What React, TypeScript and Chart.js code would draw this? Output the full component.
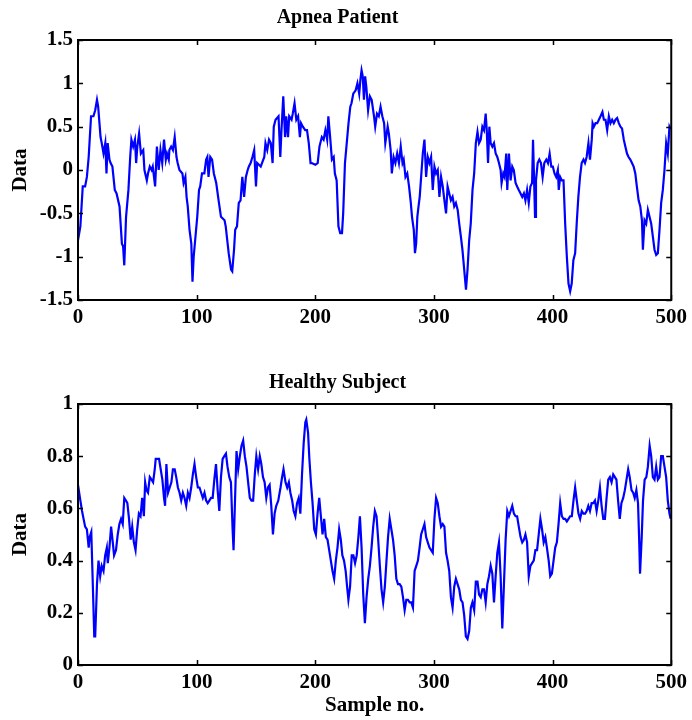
import React, { useEffect, useRef } from "react";
import { Chart, registerables } from "chart.js";

Chart.register(...registerables);

// ---------- data ----------
const xTickValues = [0, 100, 200, 300, 400, 500];
const apneaYRange = [-1.5, 1.5];
const apneaYStep = 0.5;
const healthyYRange = [0, 1];
const healthyYStep = 0.2;

const apneaTitle = "Apnea Patient";
const healthyTitle = "Healthy Subject";
const yAxisLabel = "Data";
const xAxisLabel = "Sample no.";

const apneaSamples = [
  0, 2, 4, 6, 7.5, 9, 11, 13, 14.5, 16, 17, 19, 20, 21.5, 23, 24, 25, 26.5, 27.5, 29,
  31, 32.5, 35, 37, 38, 39, 40.5, 42.5, 44, 45, 46.5, 48, 49, 50, 51.5, 53, 55, 56, 58, 59,
  60.5, 62, 63, 65, 66.5, 68, 69.5, 71, 72.5, 74, 75, 76.5, 77, 78.5, 80, 81.5, 83, 84, 85.5, 88,
  89, 90.5, 91.5, 92.5, 94, 95.5, 96.5, 97.5, 99, 100.5, 102, 103, 104.5, 106.5, 108, 109, 110, 111.5, 113, 114.5,
  116.5, 118.5, 120.5, 123.5, 124.5, 127, 129, 130, 131.5, 132.5, 134, 135.5, 137, 138.5, 140, 141.5, 143, 144, 145.5, 147,
  148.5, 150, 151, 154, 157, 158, 159.5, 161, 162.5, 164, 165, 166.5, 169,
  170.5, 171.5, 173, 174.5, 175.5, 177, 178, 180, 181, 182.5, 184, 185.5, 187, 188, 189.5, 191.5, 193, 194.5, 196, 197,
  200, 202, 203.5, 205.5, 207, 208.5, 210, 211, 212.5, 214, 215.5, 216.5, 218, 219.5, 221, 222.5, 223.5, 225, 226.5, 228,
  229.5, 230.5, 232, 234, 235.5, 237, 238, 239, 240, 241, 242, 243, 244.5, 246, 247.5, 249.5, 250.5, 252, 253.5, 255,
  256.5, 258, 259, 261, 262, 263.5, 264.5, 266, 267.5, 269, 270.5, 272, 273.5, 274.5, 276, 277.5, 279, 280.5, 281.5, 283,
  284, 285, 286, 287, 288, 289.2, 290.6, 292, 293.4, 294.8, 296.2, 297.6, 299, 300.4, 301.8, 303.2, 304.6, 306, 307.4, 308.8,
  310.2, 311.5, 312.9, 314.3, 315.7, 317.1, 318.5, 320, 321.3, 322.7, 324, 325.5, 327, 328.3, 329.7, 331, 332.5, 333.9, 335.3, 336.7,
  338, 339.4, 340.8, 342.2, 343.6, 344.5, 345.6, 346.7, 347.8, 349.2, 350.6, 352, 353.4, 354.8, 356.2, 357, 358.4, 359.5, 360.9, 361.8,
  363.2, 364.6, 366, 367.3, 368.8, 370.1, 371.5, 373, 374.4, 375.8, 377.1, 378.5, 379.9, 381.3, 382.7, 383.5, 384.4, 385.2, 386, 387.4,
  388.8, 390.2, 391.6, 393, 394.7, 396.1, 397.5, 398.9, 400.2, 401.6, 403, 404.4, 405.2, 406.4, 407.8, 409.2, 410.6, 412, 413.4, 414.8,
  416.1, 417.5, 419, 420.3, 421.7, 423.1, 424.5, 426, 427.3, 428.7, 430.2, 431.5, 433, 433.7, 434.8, 436.2, 437.6, 439, 440.4, 442,
  443.2, 444.6, 446, 447.4, 448.8, 450.2, 451.6, 453, 454.4, 455.8, 457.2, 458.5, 460, 461.3, 462.7, 464, 465.5, 466.9, 468.3, 469.7,
  471, 472.5, 473.9, 475.3, 476.1, 477.5, 478.9, 480.3, 481.7, 483.1, 484.5, 485.9, 487.3, 488.7, 490.1, 491.5, 492.9, 494.3, 495.7, 497.1,
  498.5, 499.5,
];

const apneaValues = [
  -0.81, -0.65, -0.19, -0.19, -0.08, 0.15, 0.62, 0.62, 0.69, 0.81, 0.73, 0.38, 0.31, 0.19, 0.31, -0.04, 0.31, 0.12, 0.08, 0.04,
  -0.23, -0.27, -0.42, -0.85, -0.88, -1.1, -0.54, -0.23, 0.15, 0.35, 0.27, 0.35, 0.08, 0.27, 0.42, 0.19, 0.23, 0.0, -0.12, -0.04,
  0.04, 0.0, 0.04, -0.19, 0.27, 0.0, 0.23, 0.08, 0.35, 0.12, 0.19, 0.12, 0.23, 0.27, 0.23, 0.38, 0.15, 0.08, 0.0, -0.04,
  -0.15, -0.08, -0.31, -0.42, -0.69, -0.85, -1.29, -1.0, -0.77, -0.54, -0.23, -0.19, -0.04, -0.04, 0.12, 0.15, -0.08, 0.15, 0.12, -0.04,
  -0.15, -0.35, -0.54, -0.58, -0.65, -0.96, -1.15, -1.17, -0.92, -0.69, -0.65, -0.38, -0.35, -0.08, -0.31, -0.08, 0.0, 0.04, 0.08, 0.15,
  0.23, -0.19, 0.08, 0.04, 0.15, 0.31, 0.23, 0.35, 0.31, 0.08, 0.5, 0.58, 0.62,
  0.15, 0.46, 0.85, 0.38, 0.62, 0.38, 0.62, 0.58, 0.65, 0.77, 0.58, 0.62, 0.38, 0.54, 0.5, 0.46, 0.46, 0.31, 0.08, 0.08,
  0.06, 0.08, 0.27, 0.38, 0.35, 0.46, 0.35, 0.62, 0.38, 0.12, 0.15, -0.04, -0.12, -0.65, -0.73, -0.73, -0.5, 0.08, 0.31, 0.54,
  0.73, 0.77, 0.88, 0.92, 1.0, 0.88, 1.04, 1.15, 1.08, 0.81, 1.08, 0.96, 0.69, 0.85, 0.81, 0.62, 0.5, 0.65, 0.62, 0.73,
  0.62, 0.54, 0.31, 0.5, 0.42, 0.23, -0.04, 0.15, 0.08, 0.19, 0.08, 0.27, 0.08, 0.12, -0.08, -0.04, -0.19, -0.38, -0.54, -0.69,
  -0.96, -0.85, -0.54, -0.42, -0.31, -0.08, 0.19, 0.35, -0.08, 0.15, 0.08, 0.15, -0.23, 0.04, -0.04, 0.0, -0.31, -0.08, -0.19, -0.35,
  -0.5, -0.19, -0.27, -0.35, -0.31, -0.42, -0.38, -0.46, -0.62, -0.77, -0.92, -1.15, -1.38, -1.15, -0.81, -0.62, -0.23, -0.04, 0.31, 0.44,
  0.31, 0.35, 0.5, 0.46, 0.65, 0.46, 0.08, 0.5, 0.31, 0.27, 0.31, 0.19, 0.15, 0.08, 0.0, -0.15, -0.04, -0.08, 0.19, -0.23,
  0.19, -0.12, 0.04, 0.0, -0.15, -0.19, -0.23, -0.27, -0.31, -0.27, -0.35, -0.23, -0.38, -0.19, -0.15, 0.35, -0.12, -0.54, -0.12, 0.08,
  0.12, 0.08, -0.08, 0.08, 0.12, 0.08, 0.19, 0.04, 0.04, -0.04, -0.08, 0.0, -0.23, -0.08, -0.12, -0.12, -0.62, -1.0, -1.31, -1.4,
  -1.31, -1.04, -0.96, -0.62, -0.31, -0.08, 0.08, 0.12, 0.08, 0.15, 0.31, 0.12, 0.35, 0.54, 0.5, 0.54, 0.54, 0.58, 0.62, 0.67,
  0.58, 0.58, 0.46, 0.62, 0.54, 0.58, 0.54, 0.58, 0.6, 0.54, 0.5, 0.48, 0.35, 0.27, 0.19, 0.15, 0.12, 0.08, 0.04, -0.04,
  -0.19, -0.35, -0.42, -0.58, -0.92, -0.58, -0.62, -0.46, -0.54, -0.62, -0.77, -0.92, -0.98, -0.96, -0.69, -0.38, -0.23, 0.0, 0.31, 0.19,
  0.5, 0.47,
];

const healthySamples = [
  0, 2, 3.4, 4.7, 6, 7.5, 9, 9.8, 11.2, 12.6, 13.7, 14.5, 16, 17.3, 18.7, 20, 21.5, 22.9, 24.3, 25.1,
  26.5, 27.9, 29.3, 30.4, 32, 33.5, 34.9, 36.3, 37.7, 39, 40.4, 41.6, 43, 44.4, 45.7, 47.1, 48.5, 49.9, 51.3, 52.7,
  54.1, 55.5, 56.6, 57.7, 59, 60.5, 62, 63.3, 64.7, 65.5, 66.9, 68.3, 69.7, 71.1, 72.5, 73.4, 74.5, 75.9, 77.3, 78.7,
  80, 81.5, 82.8, 84.2, 85.6, 87, 88.4, 89.8, 91.2, 92.6, 94, 95.4, 96.8, 98.2, 99.6, 101, 102.4, 103.8, 105.2, 106.6,
  108, 109.3, 110.7, 112.1, 113.5, 114.9, 116.3, 117.7, 119.1, 120.5, 121.9, 123.3, 124.7, 126, 127.5, 128.9, 130.3, 131.1, 132.2, 133.6,
  135, 136.4, 137.8, 139.2, 140.6, 142, 143.4, 144.8, 146.2, 147.6, 149, 150.3, 151.8, 153.2, 154.5, 155.9, 157.3, 158.7, 160.1, 161.5,
  162.9, 164.3, 165.7, 167.1, 168.8, 170.7, 172, 173.2, 174.9, 176.3, 177.7, 179, 180.5, 181.8, 183.2, 184.6, 186, 187.4, 188.8, 190.2,
  191.6, 192.4, 193.9, 195, 196.3, 197.7, 199.1, 200.5, 201.9, 203.3, 204.7, 206.1, 207.5, 208.9, 210.3, 211.7, 213.1, 214.5, 215.9, 217.3,
  218.7, 220.1, 221.5, 222.8, 224.2, 225.6, 226.8, 227.9, 229.3, 230.7, 232.1, 233.5, 234.9, 236.3, 237.6, 239, 240.4, 241.8, 243.2, 244.6,
  246, 247.4, 248.8, 250.2, 251.6, 253, 254.4, 255.8, 257.2, 258.6, 260, 261.3, 262.7, 264.1, 265.5, 266.9, 268.3, 269.7, 271.1, 272.5,
  273.9, 275.3, 276.7, 278.1, 279.5, 280.9, 282.3, 283.7, 285.1, 286.5, 287.9, 289.2, 290.6, 292, 293.4, 294.8, 296.2, 297.6, 299, 300.4,
  301.8, 303.2, 304.6, 306, 307.4, 308.8, 310.2, 311.5, 312.9, 314.3, 315.7, 317.1, 318.5, 319.9, 321.3, 322.7, 324.1, 325.5, 326.9, 328.3,
  329.7, 331.1, 332.4, 333.9, 335.3, 336.7, 338, 339.4, 340.8, 342.2, 343.6, 345, 346.4, 347.8, 349.2, 350.6, 352, 353.4, 354.8, 356.2,
  357.6, 359, 360.4, 361.8, 363.2, 364.6, 366, 367.4, 368.8, 370.1, 371.5, 373, 374.4, 375.8, 377.1, 378.5, 379.9, 381.3, 382.7, 384.1,
  385.5, 386.9, 388.3, 389.7, 391.1, 392.5, 393.9, 395.2, 396.7, 398, 399.4, 400.8, 402.2, 403.6, 405, 406.4, 407.8, 409.2, 410.6, 412,
  413.4, 414.8, 416.2, 417.6, 419, 420.4, 421.8, 423.2, 424.6, 426, 427.4, 428.7, 430.1, 431.5, 432.9, 434.3, 435.7, 437.1, 438.5, 439.9,
  441.3, 442.7, 444.1, 445.5, 446.9, 448.3, 449.7, 451.1, 452.5, 453.8, 455.2, 456.6, 458, 459.5, 460.9, 462.3, 463.7, 465, 466.5, 467.9,
  469.2, 470.6, 472, 472.9, 473.7, 475.1, 476.2, 477.6, 479, 480.3, 481.8, 483.1, 484.5, 485.9, 487.3, 488.7, 490.1, 491.5, 492.9, 494.3,
  495.7, 497.1, 498.5, 499.5,
];

const healthyValues = [
  0.69, 0.63, 0.59, 0.56, 0.53, 0.52, 0.45, 0.49, 0.51, 0.29, 0.11, 0.11, 0.31, 0.4, 0.34, 0.38, 0.36, 0.42, 0.45, 0.39,
  0.45, 0.53, 0.47, 0.42, 0.44, 0.5, 0.54, 0.56, 0.54, 0.64, 0.63, 0.62, 0.56, 0.48, 0.53, 0.47, 0.44, 0.52, 0.58, 0.57,
  0.64, 0.57, 0.7, 0.67, 0.66, 0.72, 0.71, 0.7, 0.75, 0.79, 0.79, 0.79, 0.75, 0.71, 0.64, 0.61, 0.77, 0.66, 0.68, 0.7,
  0.75, 0.75, 0.72, 0.68, 0.66, 0.63, 0.66, 0.64, 0.61, 0.66, 0.64, 0.68, 0.73, 0.77, 0.72, 0.68, 0.68, 0.66, 0.64, 0.66,
  0.63, 0.62, 0.63, 0.64, 0.64, 0.71, 0.77, 0.67, 0.59, 0.72, 0.79, 0.8, 0.81, 0.76, 0.72, 0.7, 0.52, 0.44, 0.61, 0.82,
  0.75, 0.8, 0.84, 0.86, 0.8, 0.76, 0.7, 0.64, 0.63, 0.63, 0.73, 0.8, 0.75, 0.8, 0.77, 0.72, 0.7, 0.64, 0.68, 0.69,
  0.61, 0.5, 0.58, 0.61, 0.63, 0.68, 0.72, 0.75, 0.7, 0.68, 0.7, 0.66, 0.63, 0.59, 0.57, 0.62, 0.64, 0.58, 0.73, 0.85,
  0.93, 0.94, 0.89, 0.79, 0.7, 0.62, 0.52, 0.5, 0.58, 0.64, 0.57, 0.5, 0.56, 0.49, 0.48, 0.44, 0.4, 0.36, 0.33, 0.4,
  0.45, 0.52, 0.48, 0.42, 0.4, 0.36, 0.3, 0.25, 0.3, 0.42, 0.42, 0.39, 0.42, 0.49, 0.57, 0.45, 0.27, 0.16, 0.26, 0.33,
  0.38, 0.45, 0.53, 0.59, 0.57, 0.48, 0.38, 0.29, 0.24, 0.3, 0.4, 0.49, 0.56, 0.52, 0.48, 0.42, 0.33, 0.31, 0.31, 0.3,
  0.26, 0.21, 0.25, 0.25, 0.24, 0.24, 0.22, 0.36, 0.38, 0.4, 0.45, 0.5, 0.52, 0.54, 0.49, 0.47, 0.45, 0.44, 0.43, 0.56,
  0.64, 0.62, 0.57, 0.53, 0.54, 0.53, 0.43, 0.4, 0.36, 0.26, 0.22, 0.3, 0.33, 0.31, 0.29, 0.25, 0.24, 0.19, 0.11, 0.1,
  0.13, 0.22, 0.24, 0.21, 0.32, 0.32, 0.27, 0.26, 0.29, 0.29, 0.24, 0.31, 0.34, 0.38, 0.35, 0.24, 0.34, 0.43, 0.47, 0.34,
  0.14, 0.31, 0.48, 0.59, 0.57, 0.59, 0.61, 0.58, 0.57, 0.57, 0.53, 0.49, 0.47, 0.48, 0.5, 0.47, 0.34, 0.38, 0.39, 0.4,
  0.44, 0.44, 0.5, 0.56, 0.52, 0.47, 0.49, 0.45, 0.4, 0.34, 0.35, 0.4, 0.45, 0.47, 0.54, 0.62, 0.57, 0.56, 0.56, 0.55,
  0.56, 0.57, 0.57, 0.63, 0.68, 0.63, 0.58, 0.56, 0.59, 0.58, 0.58, 0.59, 0.61, 0.59, 0.62, 0.62, 0.63, 0.59, 0.63, 0.68,
  0.61, 0.56, 0.56, 0.64, 0.71, 0.72, 0.7, 0.73, 0.72, 0.71, 0.63, 0.56, 0.62, 0.64, 0.67, 0.71, 0.75, 0.72, 0.67, 0.66,
  0.64, 0.67, 0.62, 0.49, 0.35, 0.49, 0.63, 0.71, 0.72, 0.76, 0.84, 0.8, 0.72, 0.71, 0.76, 0.71, 0.72, 0.8, 0.8, 0.76,
  0.72, 0.63, 0.58, 0.56,
];

// ---------- styling ----------
const SERIF = "'Liberation Serif', 'Times New Roman', Times, serif";
const W = 692;
const H = 360;

const formatTick = (v: number) => String(Math.round(v * 100) / 100);

const frameAndTicks = {
  id: "frameAndTicks",
  afterDatasetsDraw(chart: any) {
    const { ctx, chartArea, scales } = chart;
    const { left, right, top, bottom } = chartArea;
    const tl = 5;
    ctx.save();
    ctx.strokeStyle = "#000";
    ctx.lineWidth = 1.5;
    ctx.beginPath();
    scales.x.ticks.forEach((t: any) => {
      const px = Math.round(scales.x.getPixelForValue(t.value)) + 0.5;
      ctx.moveTo(px, bottom);
      ctx.lineTo(px, bottom - tl);
      ctx.moveTo(px, top);
      ctx.lineTo(px, top + tl);
    });
    scales.y.ticks.forEach((t: any) => {
      const py = Math.round(scales.y.getPixelForValue(t.value)) + 0.5;
      ctx.moveTo(left, py);
      ctx.lineTo(left + tl, py);
      ctx.moveTo(right, py);
      ctx.lineTo(right - tl, py);
    });
    ctx.stroke();
    ctx.lineWidth = 2;
    ctx.strokeRect(left, top, right - left, bottom - top);
    ctx.restore();
  },
};

function makeConfig(opts: {
  samples: number[];
  values: number[];
  yRange: number[];
  yStep: number;
  title: string;
  titlePadTop: number;
  titlePadBottom: number;
  xAxisHeight: number;
  xTitle?: string;
}): any {
  const points = opts.samples.map((s, i) => ({ x: s, y: opts.values[i] }));
  return {
    type: "line",
    data: {
      datasets: [
        {
          data: points,
          borderColor: "#0000ff",
          borderWidth: 2.2,
          pointRadius: 0,
          tension: 0,
          fill: false,
        },
      ],
    },
    options: {
      responsive: false,
      animation: false,
      events: [],
      layout: { padding: { left: 0, right: 17, top: 0, bottom: 0 } },
      plugins: {
        legend: { display: false },
        tooltip: { enabled: false },
        title: {
          display: true,
          text: opts.title,
          color: "#000",
          font: { family: SERIF, size: 20, weight: "bold", lineHeight: 1.2 },
          padding: { top: opts.titlePadTop, bottom: opts.titlePadBottom },
        },
      },
      scales: {
        x: {
          type: "linear",
          min: xTickValues[0],
          max: xTickValues[xTickValues.length - 1],
          afterBuildTicks: (scale: any) => {
            scale.ticks = xTickValues.map((v) => ({ value: v }));
          },
          grid: { display: false, drawTicks: false },
          border: { display: false },
          ticks: {
            autoSkip: false,
            maxRotation: 0,
            padding: 5,
            color: "#000",
            callback: (v: number) => formatTick(v),
            font: { family: SERIF, size: 21, weight: "bold", lineHeight: 1.2 },
          },
          title: {
            display: !!opts.xTitle,
            text: opts.xTitle || "",
            color: "#000",
            font: { family: SERIF, size: 21, weight: "bold", lineHeight: 1.2 },
            padding: { top: 0, bottom: 2 },
          },
          afterFit: (scale: any) => {
            scale.height = opts.xAxisHeight;
          },
        },
        y: {
          type: "linear",
          min: opts.yRange[0],
          max: opts.yRange[1],
          grid: { display: false, drawTicks: false },
          border: { display: false },
          ticks: {
            stepSize: opts.yStep,
            autoSkip: false,
            padding: 5,
            color: "#000",
            callback: (v: number) => formatTick(v),
            font: { family: SERIF, size: 21, weight: "bold", lineHeight: 1.2 },
          },
          title: {
            display: true,
            text: yAxisLabel,
            color: "#000",
            font: { family: SERIF, size: 21, weight: "bold", lineHeight: 1.2 },
            padding: { top: 8, bottom: 0 },
          },
          afterFit: (scale: any) => {
            scale.width = 78;
          },
        },
      },
    },
    plugins: [frameAndTicks],
  };
}

function ChartCanvas({ config }: { config: () => any }) {
  const ref = useRef<HTMLCanvasElement | null>(null);
  useEffect(() => {
    if (!ref.current) return;
    const chart = new Chart(ref.current, config());
    return () => chart.destroy();
  }, []);
  return (
    <canvas
      ref={ref}
      width={W}
      height={H}
      style={{ display: "block", width: W, height: H }}
    />
  );
}

export default function App() {
  return (
    <div
      style={{
        position: "absolute",
        left: 0,
        top: 0,
        width: W,
        height: 2 * H,
        background: "#fff",
      }}
    >
      <ChartCanvas
        config={() =>
          makeConfig({
            samples: apneaSamples,
            values: apneaValues,
            yRange: apneaYRange,
            yStep: apneaYStep,
            title: apneaTitle,
            titlePadTop: 6,
            titlePadBottom: 10,
            xAxisHeight: 60,
          })
        }
      />
      <ChartCanvas
        config={() =>
          makeConfig({
            samples: healthySamples,
            values: healthyValues,
            yRange: healthyYRange,
            yStep: healthyYStep,
            title: healthyTitle,
            titlePadTop: 11,
            titlePadBottom: 9,
            xAxisHeight: 55,
            xTitle: xAxisLabel,
          })
        }
      />
    </div>
  );
}
